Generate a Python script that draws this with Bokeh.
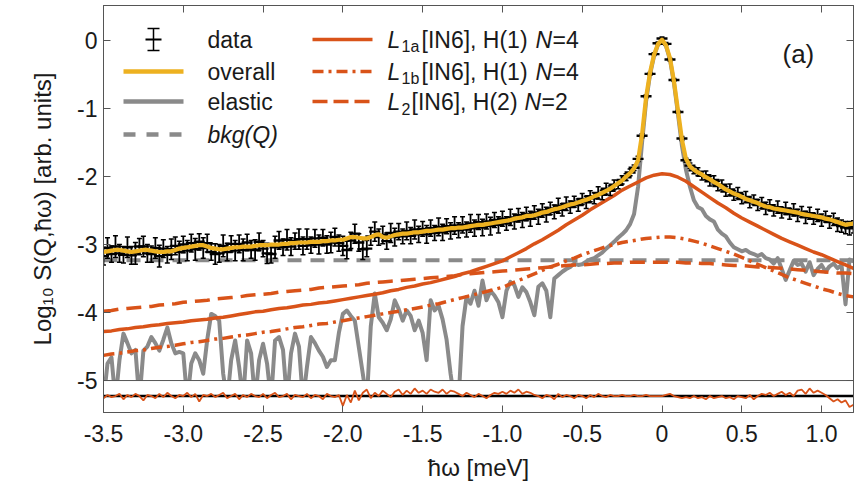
import numpy as np
from bokeh.plotting import figure
from bokeh.models import Range1d, FixedTicker, LinearAxis, Span, Label, CustomJSTickFormatter
from bokeh.embed import file_html
from bokeh.resources import INLINE

# ------------------------------------------------------------------ data
energy_start = -3.5      # meV, first energy bin
energy_step = 0.025      # meV, data binning
fit_step = 0.05          # meV, sampling of the fitted components

overall = [
    -3.11, -3.10, -3.09, -3.08, -3.08, -3.09, -3.10, -3.11, -3.10, -3.09,
    -3.08, -3.08, -3.09, -3.10, -3.11, -3.11, -3.10, -3.10, -3.08, -3.06,
    -3.05, -3.04, -3.03, -3.02, -3.01, -3.01, -3.03, -3.05, -3.06, -3.07,
    -3.07, -3.06, -3.05, -3.04, -3.04, -3.03, -3.03, -3.03, -3.02, -3.01,
    -3.01, -3.01, -3.00, -3.00, -3.00, -2.99, -2.99, -2.98, -2.98, -2.97,
    -2.97, -2.97, -2.96, -2.96, -2.96, -2.95, -2.95, -2.94, -2.94, -2.93,
    -2.93, -2.91, -2.89, -2.89, -2.90, -2.91, -2.91, -2.89, -2.86, -2.85,
    -2.89, -2.90, -2.88, -2.86, -2.85, -2.84, -2.84, -2.83, -2.82, -2.82,
    -2.81, -2.80, -2.80, -2.79, -2.78, -2.78, -2.77, -2.76, -2.76, -2.75,
    -2.75, -2.74, -2.73, -2.72, -2.71, -2.71, -2.70, -2.69, -2.68, -2.67,
    -2.66, -2.65, -2.64, -2.62, -2.61, -2.60, -2.58, -2.58, -2.57, -2.55,
    -2.53, -2.52, -2.50, -2.48, -2.47, -2.45, -2.43, -2.41, -2.40, -2.38,
    -2.36, -2.34, -2.32, -2.29, -2.27, -2.24, -2.21, -2.18, -2.14, -2.10,
    -2.06, -2.00, -1.95, -1.88, -1.76, -1.38, -0.84, -0.47, -0.21, -0.05,
    0.01, -0.07, -0.26, -0.60, -1.03, -1.46, -1.74, -1.85, -1.90, -1.94,
    -1.97, -2.01, -2.04, -2.08, -2.11, -2.15, -2.19, -2.22, -2.25, -2.27,
    -2.30, -2.33, -2.35, -2.37, -2.39, -2.42, -2.44, -2.45, -2.47, -2.48,
    -2.49, -2.50, -2.51, -2.52, -2.53, -2.55, -2.56, -2.57, -2.58, -2.59,
    -2.60, -2.62, -2.63, -2.65, -2.67, -2.69, -2.71, -2.70, -2.69,
]

data = [
    -3.17, -3.05, -3.14, -3.03, -3.13, -3.15, -3.04, -3.16, -3.13, -3.03,
    -3.03, -3.13, -3.14, -3.05, -3.17, -3.06, -3.15, -3.07, -3.02, -3.11,
    -3.00, -3.09, -2.98, -3.07, -2.96, -3.05, -2.98, -3.11, -3.14, -3.13,
    -3.02, -3.11, -2.99, -3.09, -2.99, -3.08, -2.97, -3.07, -3.08, -2.96,
    -3.06, -3.13, -3.14, -3.04, -2.94, -3.04, -2.93, -3.03, -2.95, -2.92,
    -3.02, -2.92, -3.01, -2.91, -3.00, -2.90, -3.00, -2.97, -2.89, -2.98,
    -3.02, -3.08, -2.94, -2.84, -2.97, -3.07, -3.06, -2.88, -2.81, -2.89,
    -2.86, -2.95, -2.83, -2.89, -2.81, -2.88, -2.80, -2.87, -2.78, -2.85,
    -2.77, -2.85, -2.76, -2.83, -2.74, -2.82, -2.73, -2.80, -2.72, -2.79,
    -2.71, -2.78, -2.69, -2.76, -2.67, -2.75, -2.66, -2.73, -2.64, -2.71,
    -2.62, -2.69, -2.60, -2.66, -2.57, -2.64, -2.55, -2.62, -2.53, -2.59,
    -2.50, -2.56, -2.47, -2.52, -2.43, -2.49, -2.40, -2.45, -2.37, -2.42,
    -2.33, -2.38, -2.29, -2.32, -2.24, -2.27, -2.18, -2.21, -2.12, -2.12,
    -2.05, -2.01, -1.94, -1.87, -1.74, -1.40, -0.82, -0.49, -0.20, -0.04,
    0.03, -0.05, -0.28, -0.58, -1.05, -1.44, -1.76, -1.84, -1.91, -1.93,
    -1.99, -1.98, -2.07, -2.05, -2.14, -2.12, -2.22, -2.19, -2.28, -2.24,
    -2.33, -2.30, -2.38, -2.34, -2.42, -2.39, -2.47, -2.42, -2.50, -2.45,
    -2.53, -2.47, -2.55, -2.49, -2.57, -2.52, -2.60, -2.54, -2.62, -2.57,
    -2.64, -2.59, -2.67, -2.63, -2.71, -2.73, -2.75, -2.76, -2.74,
]

data_err = [
    0.13, 0.15, 0.12, 0.16, 0.13, 0.12, 0.15, 0.13, 0.16, 0.12,
    0.15, 0.13, 0.12, 0.15, 0.16, 0.13, 0.12, 0.15, 0.13, 0.16,
    0.12, 0.15, 0.13, 0.16, 0.12, 0.15, 0.13, 0.12, 0.15, 0.13,
    0.16, 0.13, 0.12, 0.15, 0.13, 0.16, 0.12, 0.13, 0.15, 0.13,
    0.12, 0.15, 0.13, 0.16, 0.13, 0.12, 0.15, 0.13, 0.12, 0.15,
    0.13, 0.15, 0.12, 0.13, 0.14, 0.12, 0.13, 0.15, 0.13, 0.12,
    0.14, 0.13, 0.12, 0.14, 0.13, 0.15, 0.12, 0.13, 0.14, 0.12,
    0.13, 0.12, 0.14, 0.13, 0.12, 0.11, 0.13, 0.12, 0.14, 0.12,
    0.11, 0.13, 0.12, 0.11, 0.13, 0.12, 0.11, 0.12, 0.13, 0.11,
    0.12, 0.11, 0.13, 0.12, 0.11, 0.12, 0.11, 0.13, 0.11, 0.12,
    0.11, 0.10, 0.12, 0.11, 0.10, 0.11, 0.10, 0.11, 0.10, 0.11,
    0.10, 0.11, 0.09, 0.10, 0.11, 0.09, 0.10, 0.09, 0.08, 0.09,
    0.08, 0.09, 0.08, 0.08, 0.09, 0.07, 0.08, 0.07, 0.07, 0.06,
    0.06, 0.05, 0.05, 0.04, 0.04, 0.03, 0.02, 0.02, 0.02, 0.02,
    0.02, 0.02, 0.02, 0.02, 0.02, 0.03, 0.03, 0.04, 0.05, 0.06,
    0.06, 0.06, 0.07, 0.06, 0.07, 0.07, 0.07, 0.08, 0.07, 0.08,
    0.07, 0.08, 0.08, 0.07, 0.08, 0.08, 0.09, 0.08, 0.08, 0.09,
    0.08, 0.09, 0.08, 0.09, 0.09, 0.08, 0.09, 0.09, 0.08, 0.09,
    0.09, 0.08, 0.09, 0.09, 0.10, 0.09, 0.09, 0.10, 0.09,
]

elastic = [
    -5.30, -4.75, -4.66, -5.30, -4.70, -4.31, -4.45, -4.60, -4.55, -5.30,
    -4.56, -4.50, -4.36, -4.45, -4.56, -4.40, -4.22, -4.45, -4.60, -4.58,
    -4.60, -5.30, -4.75, -4.60, -4.70, -4.90, -4.40, -4.02, -4.05, -4.12,
    -4.90, -5.30, -4.70, -4.41, -4.80, -5.30, -4.41, -4.60, -5.30, -4.70,
    -4.46, -4.75, -5.30, -4.41, -4.36, -4.55, -5.30, -4.60, -4.31, -4.50,
    -5.30, -4.80, -4.36, -4.45, -4.56, -4.65, -4.80, -4.70, -4.70, -4.30,
    -4.02, -3.97, -4.05, -4.12, -4.51, -4.90, -5.30, -4.20, -3.72, -4.07,
    -4.15, -4.26, -4.10, -3.82, -3.95, -4.12, -3.97, -4.05, -4.26, -4.12,
    -4.30, -4.70, -3.82, -3.97, -3.90, -4.10, -4.40, -4.90, -5.30, -5.30,
    -4.20, -3.77, -3.87, -3.68, -3.90, -3.53, -3.82, -3.68, -3.75, -3.85,
    -4.07, -3.68, -3.55, -3.60, -3.77, -3.63, -3.70, -3.85, -4.04, -3.62,
    -3.57, -3.68, -4.07, -3.50, -3.45, -3.40, -3.36, -3.33, -3.28, -3.30,
    -3.29, -3.25, -3.22, -3.20, -3.16, -3.12, -3.06, -3.01, -2.96, -2.90,
    -2.85, -2.79, -2.70, -2.55, -2.15, -1.50, -0.90, -0.50, -0.23, -0.06,
    0.00, -0.08, -0.28, -0.63, -1.08, -1.55, -1.90, -2.15, -2.35, -2.45,
    -2.48, -2.58, -2.63, -2.66, -2.78, -2.84, -2.88, -2.97, -3.04, -3.07,
    -3.10, -3.08, -3.12, -3.14, -3.17, -3.14, -3.20, -3.22, -3.28, -3.20,
    -3.36, -3.52, -3.38, -3.24, -3.30, -3.28, -3.40, -3.26, -3.45, -3.36,
    -3.30, -3.40, -3.32, -3.28, -3.35, -3.30, -3.88, -3.22, -3.25,
]

residual = [
    -0.02, 0.01, -0.01, 0.00, 0.02, -0.03, 0.01, -0.01, 0.02, 0.00,
    -0.04, 0.01, 0.00, -0.02, 0.02, -0.01, 0.03, 0.00, -0.02, 0.01,
    0.00, 0.03, -0.01, 0.02, -0.05, 0.01, 0.00, 0.02, -0.01, 0.01,
    0.03, -0.02, 0.00, 0.02, -0.03, 0.01, -0.01, 0.02, 0.00, -0.01,
    0.02, -0.02, 0.01, 0.03, -0.01, 0.00, 0.02, -0.03, 0.01, 0.00,
    -0.01, 0.02, -0.02, 0.01, 0.00, -0.03, 0.02, 0.00, -0.01, 0.01,
    -0.09, 0.01, -0.06, 0.05, -0.04, 0.03, 0.06, -0.02, 0.03, 0.00,
    0.05, 0.02, -0.01, 0.04, 0.06, 0.01, 0.05, 0.02, 0.07, 0.03,
    0.05, 0.02, 0.06, 0.04, 0.03, 0.06, 0.02, 0.05, 0.04, 0.02,
    0.00, 0.03, 0.01, -0.01, 0.02, 0.00, -0.02, 0.01, 0.03, 0.02,
    0.04, 0.02, 0.05, 0.03, 0.06, 0.02, 0.04, 0.03, 0.01, 0.00,
    -0.02, 0.01, 0.00, -0.03, 0.02, -0.01, 0.01, 0.00, -0.02, 0.01,
    0.00, -0.02, 0.01, -0.01, 0.02, 0.00, -0.01, 0.01, 0.00, 0.00,
    0.01, 0.00, 0.00, 0.01, 0.00, 0.00, 0.01, 0.00, 0.00, 0.00,
    0.00, 0.01, 0.02, 0.00, -0.01, -0.02, -0.01, -0.02, 0.00, -0.02,
    -0.01, -0.03, 0.00, -0.02, -0.01, 0.00, -0.02, -0.01, -0.03, 0.00,
    -0.01, -0.02, 0.01, -0.03, 0.00, 0.02, 0.01, 0.03, 0.00, 0.02,
    0.04, 0.01, 0.03, 0.00, 0.05, 0.06, 0.02, 0.07, 0.03, 0.05,
    0.03, 0.01, -0.02, -0.05, -0.03, -0.06, -0.04, -0.10, -0.08,
]

L1a = [
    -4.28, -4.27, -4.25, -4.24, -4.22, -4.21, -4.19, -4.18, -4.16, -4.15,
    -4.14, -4.12, -4.11, -4.10, -4.08, -4.07, -4.05, -4.03, -4.01, -3.99,
    -3.98, -3.96, -3.94, -3.93, -3.91, -3.89, -3.88, -3.86, -3.85, -3.83,
    -3.81, -3.79, -3.77, -3.75, -3.73, -3.71, -3.68, -3.66, -3.63, -3.61,
    -3.58, -3.56, -3.53, -3.50, -3.47, -3.43, -3.40, -3.36, -3.32, -3.28,
    -3.24, -3.18, -3.12, -3.06, -2.99, -2.93, -2.86, -2.79, -2.71, -2.64,
    -2.57, -2.49, -2.42, -2.35, -2.28, -2.20, -2.14, -2.08, -2.02, -1.98,
    -1.96, -1.97, -2.01, -2.07, -2.15, -2.23, -2.31, -2.39, -2.46, -2.54,
    -2.61, -2.67, -2.73, -2.79, -2.85, -2.91, -2.96, -3.01, -3.06, -3.11,
    -3.15, -3.20, -3.25, -3.30, -3.35,
]

L1b = [
    -4.63, -4.61, -4.60, -4.58, -4.56, -4.55, -4.53, -4.51, -4.50, -4.48,
    -4.46, -4.44, -4.43, -4.41, -4.39, -4.38, -4.36, -4.34, -4.33, -4.31,
    -4.29, -4.28, -4.26, -4.24, -4.22, -4.21, -4.19, -4.17, -4.16, -4.14,
    -4.12, -4.10, -4.08, -4.06, -4.04, -4.02, -4.00, -3.98, -3.96, -3.94,
    -3.92, -3.89, -3.87, -3.84, -3.81, -3.78, -3.75, -3.72, -3.69, -3.66,
    -3.63, -3.58, -3.53, -3.48, -3.43, -3.38, -3.33, -3.29, -3.24, -3.20,
    -3.15, -3.11, -3.07, -3.03, -3.00, -2.97, -2.95, -2.93, -2.91, -2.90,
    -2.89, -2.89, -2.90, -2.92, -2.95, -2.98, -3.02, -3.06, -3.10, -3.14,
    -3.19, -3.24, -3.29, -3.34, -3.39, -3.44, -3.49, -3.53, -3.57, -3.61,
    -3.65, -3.68, -3.72, -3.75, -3.77,
]

L2 = [
    -3.98, -3.97, -3.95, -3.94, -3.93, -3.92, -3.91, -3.89, -3.88, -3.87,
    -3.85, -3.84, -3.83, -3.82, -3.80, -3.79, -3.78, -3.77, -3.75, -3.74,
    -3.73, -3.72, -3.70, -3.69, -3.68, -3.67, -3.66, -3.64, -3.63, -3.62,
    -3.61, -3.60, -3.59, -3.57, -3.56, -3.55, -3.54, -3.53, -3.52, -3.51,
    -3.50, -3.49, -3.48, -3.47, -3.46, -3.44, -3.43, -3.42, -3.41, -3.40,
    -3.39, -3.38, -3.37, -3.36, -3.35, -3.34, -3.33, -3.32, -3.31, -3.30,
    -3.30, -3.29, -3.28, -3.28, -3.27, -3.27, -3.26, -3.26, -3.26, -3.26,
    -3.26, -3.26, -3.26, -3.27, -3.27, -3.28, -3.28, -3.29, -3.30, -3.31,
    -3.31, -3.32, -3.33, -3.33, -3.34, -3.35, -3.36, -3.37, -3.38, -3.39,
    -3.40, -3.41, -3.42, -3.42, -3.43,
]

bkg_level = -3.23

x_ticks = [-3.5, -3.0, -2.5, -2.0, -1.5, -1.0, -0.5, 0.0, 0.5, 1.0]
y_ticks = [0, -1, -2, -3, -4, -5]

energy = np.round(energy_start + energy_step * np.arange(len(overall)), 4)
fit_energy = np.round(energy_start + fit_step * np.arange(len(L1a)), 4)
data_arr = np.array(data)
err_arr = np.array(data_err)

# ------------------------------------------------------------------ layout / style
W, H = 864, 484
FRAME_L, FRAME_R, FRAME_T, FRAME_B = 103, 853, 5, 412
X_RANGE = (-3.5, 1.2)
Y_RANGE = (-5.47, 0.515)
RES_TOP = -5.0          # upper edge of the residual strip
RES_BASE = -5.228       # zero line of the residual strip
RES_SCALE = 1.6         # display magnification of the residual strip

ORANGE = "#D95319"
YELLOW = "#EDB120"
GRAY = "#8A8A8A"
FRAME = "#555555"
TEXT = "#1a1a1a"
FONT = "Liberation Sans"


def px_x(X):
    return X_RANGE[0] + (X - FRAME_L) * (X_RANGE[1] - X_RANGE[0]) / (FRAME_R - FRAME_L)


def px_y(Y):
    return Y_RANGE[1] - (Y - FRAME_T) * (Y_RANGE[1] - Y_RANGE[0]) / (FRAME_B - FRAME_T)


p = figure(width=W, height=H, x_range=Range1d(*X_RANGE), y_range=Range1d(*Y_RANGE),
           output_backend="svg", toolbar_location=None,
           min_border_left=FRAME_L, min_border_right=W - FRAME_R,
           min_border_top=FRAME_T, min_border_bottom=H - FRAME_B)
p.grid.visible = False
p.outline_line_color = FRAME
p.outline_line_width = 1
p.background_fill_color = "white"
p.border_fill_color = "white"

xfmt = CustomJSTickFormatter(code="return tick === 0 ? '0' : tick.toFixed(1);")
yfmt = CustomJSTickFormatter(code="return tick.toFixed(0);")
blank = CustomJSTickFormatter(code="return '';")


def style(ax, ticks, fmt, label_size="23px", standoff=6):
    ax.ticker = FixedTicker(ticks=ticks)
    ax.formatter = fmt
    ax.major_tick_in = 7
    ax.major_tick_out = 0
    ax.minor_tick_in = 0
    ax.minor_tick_out = 0
    ax.axis_line_color = FRAME
    ax.major_tick_line_color = FRAME
    ax.major_label_text_font = FONT
    ax.major_label_text_font_size = label_size
    ax.major_label_text_color = TEXT
    ax.major_label_standoff = standoff
    ax.axis_label_text_font = FONT
    ax.axis_label_text_font_size = "24px"
    ax.axis_label_text_font_style = "normal"
    ax.axis_label_text_color = TEXT


style(p.xaxis[0], x_ticks, xfmt, standoff=12)
p.xaxis[0].axis_label = "ħω [meV]"
p.xaxis[0].axis_label_standoff = 9
style(p.yaxis[0], y_ticks, yfmt, standoff=6)
p.yaxis[0].axis_label = "Log₁₀ S(Q,ħω) [arb. units]"
p.yaxis[0].axis_label_standoff = 18

top_ax = LinearAxis()
style(top_ax, x_ticks, blank, label_size="1px", standoff=0)
p.add_layout(top_ax, "above")
right_ax = LinearAxis()
style(right_ax, y_ticks, blank, label_size="1px", standoff=0)
p.add_layout(right_ax, "right")

# ------------------------------------------------------------------ curves
p.line(energy, elastic, line_color=GRAY, line_width=4, line_join="round")
p.line([X_RANGE[0], X_RANGE[1]], [bkg_level, bkg_level], line_color=GRAY,
       line_width=4, line_dash="14 9")
p.line(fit_energy, L2, line_color=ORANGE, line_width=3.5, line_dash="15 8")
p.line(fit_energy, L1b, line_color=ORANGE, line_width=3.5, line_dash="11 5 3 5")
p.line(fit_energy, L1a, line_color=ORANGE, line_width=3.5)

# data with error bars
p.segment(x0=energy, y0=data_arr - err_arr, x1=energy, y1=data_arr + err_arr,
          line_color="black", line_width=1.8)
p.scatter(np.concatenate([energy, energy]),
          np.concatenate([data_arr - err_arr, data_arr + err_arr]),
          marker="dash", size=5, line_color="black", line_width=1.5)
p.scatter(energy, data_arr, marker="dash", size=11, line_color="black", line_width=2.4)

p.line(energy, overall, line_color=YELLOW, line_width=4.2, line_join="round")

# residual strip: mask whatever runs below the main panel, then draw residuals
p.quad(left=[X_RANGE[0]], right=[X_RANGE[1]], bottom=[Y_RANGE[0]], top=[RES_TOP],
       fill_color="white", line_color=None)
p.line([X_RANGE[0], X_RANGE[1]], [RES_BASE, RES_BASE], line_color="black", line_width=2.5)
p.line(energy, RES_BASE + RES_SCALE * np.array(residual), line_color=ORANGE, line_width=1.8)
p.add_layout(Span(location=RES_TOP, dimension="width", line_color=FRAME, line_width=1))

# ------------------------------------------------------------------ legend (hand built)
ROW_Y = [39, 71, 101, 134]
C1_X0, C1_X1, C1_T = 123, 183, 207
C2_X0, C2_X1, C2_T = 312, 372, 387
ebx = px_x((C1_X0 + C1_X1) / 2)
p.segment(x0=[ebx], y0=[px_y(ROW_Y[0] + 11)], x1=[ebx], y1=[px_y(ROW_Y[0] - 11)],
          line_color="black", line_width=1.5)
p.scatter([ebx, ebx], [px_y(ROW_Y[0] + 11), px_y(ROW_Y[0] - 11)], marker="dash",
          size=12, line_color="black", line_width=1.5)
p.scatter([ebx], [px_y(ROW_Y[0])], marker="dash", size=16, line_color="black", line_width=1.8)

seg1 = [px_x(C1_X0), px_x(C1_X1)]
seg2 = [px_x(C2_X0), px_x(C2_X1)]
p.line(seg1, [px_y(ROW_Y[1])] * 2, line_color=YELLOW, line_width=4.5)
p.line(seg1, [px_y(ROW_Y[2])] * 2, line_color=GRAY, line_width=4.5)
p.line(seg1, [px_y(ROW_Y[3])] * 2, line_color=GRAY, line_width=4.5, line_dash="12 11")
p.line(seg2, [px_y(ROW_Y[0])] * 2, line_color=ORANGE, line_width=3.5)
p.line(seg2, [px_y(ROW_Y[1])] * 2, line_color=ORANGE, line_width=3.5, line_dash="11 5 3 5")
p.line(seg2, [px_y(ROW_Y[2])] * 2, line_color=ORANGE, line_width=3.5, line_dash="15 6")


def txt(X, Y, s, size="23px", style="normal"):
    p.add_layout(Label(x=px_x(X), y=px_y(Y), text=s, text_font=FONT, text_font_size=size,
                       text_font_style=style, text_color=TEXT, text_baseline="middle",
                       text_align="left"))


txt(C1_T, ROW_Y[0], "data")
txt(C1_T, ROW_Y[1], "overall")
txt(C1_T, ROW_Y[2], "elastic")
txt(C1_T, ROW_Y[3], "bkg(Q)", style="italic")

legend2 = [("1a", "[IN6], H(1) ", "=4", 421, 535),
           ("1b", "[IN6], H(1) ", "=4", 421, 535),
           ("2", "[IN6], H(2) ", "=2", 411, 524)]
for row, (sub, mid, tail, x_mid, x_n) in enumerate(legend2):
    yy = ROW_Y[row]
    txt(C2_T, yy, "L", style="italic")
    txt(C2_T + 14, yy + 7, sub, size="16px")
    txt(x_mid, yy, mid)
    txt(x_n, yy, "N", style="italic")
    txt(x_n + 17, yy, tail)

txt(782, 53, "(a)", size="26px")

open("out.html", "w").write(file_html(p, INLINE))
